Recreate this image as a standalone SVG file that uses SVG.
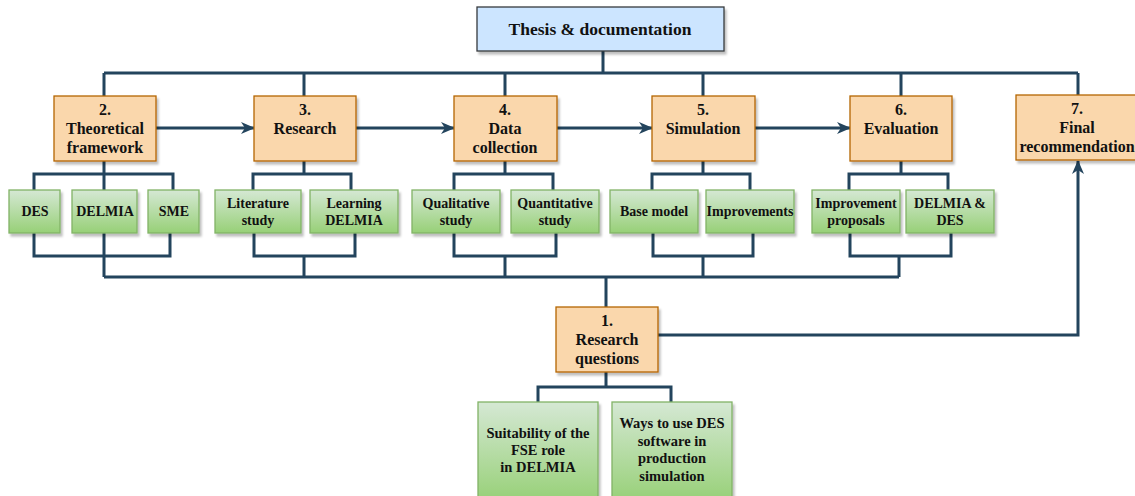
<svg xmlns="http://www.w3.org/2000/svg" width="1135" height="496" viewBox="0 0 1135 496">
<defs>
<linearGradient id="gg" x1="0" y1="0" x2="0" y2="1">
<stop offset="0" stop-color="#d5e8d4"/>
<stop offset="1" stop-color="#97d077"/>
</linearGradient>
<filter id="sh" x="-10%" y="-10%" width="130%" height="130%">
<feDropShadow dx="2" dy="3" stdDeviation="1" flood-color="#000" flood-opacity="0.25"/>
</filter>
<marker id="arr" markerUnits="userSpaceOnUse" markerWidth="14" markerHeight="14" viewBox="0 0 14 14" refX="13" refY="7" orient="auto">
<path d="M0,1 L14,7 L0,13 L4,7 Z" fill="#23445d"/>
</marker>
<style>
.o{fill:#fad7ac;stroke:#b46504;stroke-width:1.3;filter:url(#sh)}
.g{fill:url(#gg);stroke:#82b366;stroke-width:1.3;filter:url(#sh)}
.b{fill:#cce5ff;stroke:#36393d;stroke-width:1.3;filter:url(#sh)}
.c{fill:none;stroke:#23445d;stroke-width:3}
text{font-family:"Liberation Serif","Times New Roman",serif;font-weight:bold;fill:#111;text-anchor:middle}
.t17{font-size:17.5px}
.t16{font-size:16px}
.t13{font-size:14px}
.t14{font-size:14.5px}
</style>
</defs>
<g id="connectors">
<path class="c" d="M603,51 V73 M104,73 H1078 M104,73 V96 M304,73 V96 M505,73 V96 M703,73 V96 M901,73 V96 M1078,73 V96"/>
<path class="c" d="M156,128 H254" marker-end="url(#arr)"/>
<path class="c" d="M356,128 H454" marker-end="url(#arr)"/>
<path class="c" d="M557,128 H652" marker-end="url(#arr)"/>
<path class="c" d="M755,128 H850" marker-end="url(#arr)"/>
<path class="c" d="M104,161 V174 M34,190 V174 H173 V190 M104,174 V190"/>
<path class="c" d="M304,161 V174 M253,190 V174 H351 V190"/>
<path class="c" d="M505,161 V174 M454,190 V174 H553 V190"/>
<path class="c" d="M703,161 V174 M652,190 V174 H750 V190"/>
<path class="c" d="M901,161 V174 M849,190 V174 H948 V190"/>
<path class="c" d="M34,233 V256 H170 V233 M104,233 V277"/>
<path class="c" d="M254,233 V256 H355 V233 M304,256 V277"/>
<path class="c" d="M454,233 V256 H556 V233 M505,256 V277"/>
<path class="c" d="M653,233 V256 H753 V233 M703,256 V277"/>
<path class="c" d="M850,233 V256 H951 V233 M899,256 V277"/>
<path class="c" d="M104,277 H899 M606,277 V307"/>
<path class="c" d="M658,335 H1078 V161" marker-end="url(#arr)"/>
<path class="c" d="M606,372 V387 M538,402 V387 H671 V402"/>
</g>
<g id="n-thesis">
<rect class="b" x="477" y="7" width="247" height="44"/>
<text class="t17" x="600" y="35">Thesis &amp; documentation</text>
</g>
<g id="n2">
<rect class="o" x="54" y="96" width="102" height="65"/>
<text class="t16" x="105" y="115">2.</text>
<text class="t16" x="105" y="134">Theoretical</text>
<text class="t16" x="105" y="153">framework</text>
</g>
<g id="n3">
<rect class="o" x="254" y="96" width="102" height="65"/>
<text class="t16" x="305" y="115">3.</text>
<text class="t16" x="305" y="134">Research</text>
</g>
<g id="n4">
<rect class="o" x="454" y="96" width="103" height="65"/>
<text class="t16" x="505" y="115">4.</text>
<text class="t16" x="505" y="134">Data</text>
<text class="t16" x="505" y="153">collection</text>
</g>
<g id="n5">
<rect class="o" x="652" y="96" width="103" height="65"/>
<text class="t16" x="703" y="115">5.</text>
<text class="t16" x="703" y="134">Simulation</text>
</g>
<g id="n6">
<rect class="o" x="850" y="96" width="102" height="65"/>
<text class="t16" x="901" y="115">6.</text>
<text class="t16" x="901" y="134">Evaluation</text>
</g>
<g id="n7">
<rect class="o" x="1016" y="95" width="124" height="65"/>
<text class="t16" x="1077" y="114">7.</text>
<text class="t16" x="1077" y="133">Final</text>
<text class="t16" x="1077" y="152">recommendation</text>
</g>
<g id="n-des">
<rect class="g" x="9" y="190" width="51" height="43"/>
<text class="t13" x="35" y="216">DES</text>
</g>
<g id="n-delmia">
<rect class="g" x="72" y="190" width="65" height="43"/>
<text class="t13" x="105" y="216">DELMIA</text>
</g>
<g id="n-sme">
<rect class="g" x="148" y="190" width="51" height="43"/>
<text class="t13" x="174" y="216">SME</text>
</g>
<g id="n-lit">
<rect class="g" x="215" y="190" width="86" height="43"/>
<text class="t13" x="258" y="208">Literature</text>
<text class="t13" x="258" y="225">study</text>
</g>
<g id="n-learn">
<rect class="g" x="310" y="190" width="88" height="43"/>
<text class="t13" x="354" y="208">Learning</text>
<text class="t13" x="354" y="225">DELMIA</text>
</g>
<g id="n-qual">
<rect class="g" x="412" y="190" width="88" height="43"/>
<text class="t13" x="456" y="208">Qualitative</text>
<text class="t13" x="456" y="225">study</text>
</g>
<g id="n-quant">
<rect class="g" x="511" y="190" width="88" height="43"/>
<text class="t13" x="555" y="208">Quantitative</text>
<text class="t13" x="555" y="225">study</text>
</g>
<g id="n-base">
<rect class="g" x="610" y="190" width="88" height="43"/>
<text class="t13" x="654" y="216">Base model</text>
</g>
<g id="n-impr">
<rect class="g" x="706" y="190" width="88" height="43"/>
<text class="t13" x="750" y="216">Improvements</text>
</g>
<g id="n-prop">
<rect class="g" x="812" y="190" width="88" height="43"/>
<text class="t13" x="856" y="208">Improvement</text>
<text class="t13" x="856" y="225">proposals</text>
</g>
<g id="n-dd">
<rect class="g" x="906" y="190" width="88" height="43"/>
<text class="t13" x="950" y="208">DELMIA &amp;</text>
<text class="t13" x="950" y="225">DES</text>
</g>
<g id="n1">
<rect class="o" x="556" y="307" width="102" height="65"/>
<text class="t16" x="607" y="326">1.</text>
<text class="t16" x="607" y="345">Research</text>
<text class="t16" x="607" y="364">questions</text>
</g>
<g id="n-suit">
<rect class="g" x="478" y="402" width="120" height="100"/>
<text class="t14" x="538" y="438">Suitability of the</text>
<text class="t14" x="538" y="455">FSE role</text>
<text class="t14" x="538" y="472">in DELMIA</text>
</g>
<g id="n-ways">
<rect class="g" x="612" y="402" width="120" height="100"/>
<text class="t14" x="672" y="428">Ways to use DES</text>
<text class="t14" x="672" y="446">software in</text>
<text class="t14" x="672" y="463">production</text>
<text class="t14" x="672" y="481">simulation</text>
</g>
</svg>
